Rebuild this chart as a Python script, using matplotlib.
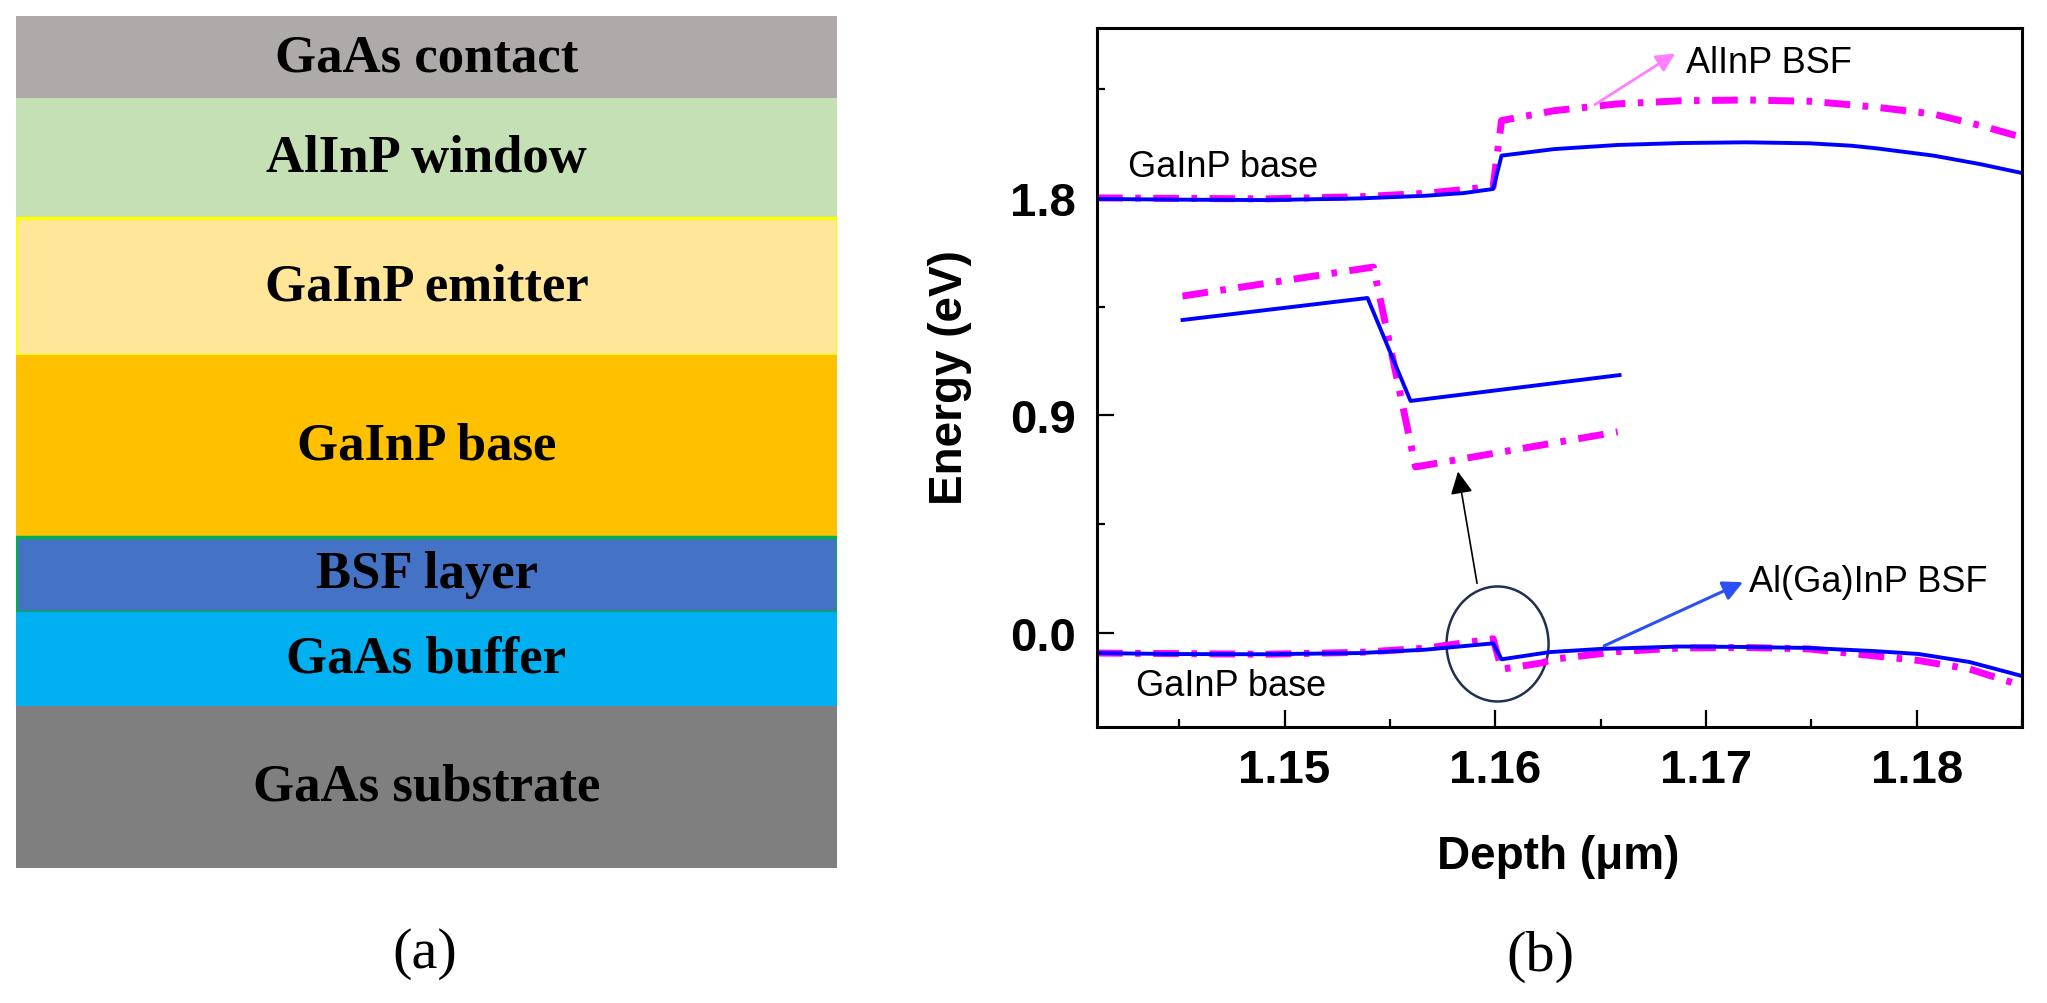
import matplotlib
matplotlib.use('Agg')
import matplotlib.pyplot as plt
from matplotlib.patches import Ellipse
from matplotlib.ticker import MultipleLocator, FormatStrFormatter

plt.rcParams['font.family'] = ['Liberation Sans', 'DejaVu Sans']

# ---- panel (a): layer stack (top to bottom) ----
layer_names = ['GaAs contact', 'AlInP window', 'GaInP emitter', 'GaInP base',
               'BSF layer', 'GaAs buffer', 'GaAs substrate']
layer_thick = [82, 120, 137, 182, 75, 94, 162]
layer_colors = ['#aeaaaa', '#c5e0b4', '#ffe699', '#ffc000', '#4472c4', '#00b0f0', '#7f7f7f']
layer_edges = ['none', 'none', '#ffff00', 'none', '#00b050', 'none', 'none']

# ---- panel (b): band edges, blue = Al(Ga)InP BSF, magenta = AlInP BSF ----
ec_blue_x = [1.1411, 1.1445, 1.1491, 1.1536, 1.1567, 1.1585, 1.1599, 1.1603, 1.1628,
             1.1658, 1.1688, 1.1719, 1.1749, 1.1769, 1.1781, 1.1808, 1.1830, 1.1850]
ec_blue_y = [1.796, 1.793, 1.791, 1.798, 1.809, 1.820, 1.837, 1.975, 2.002,
             2.019, 2.027, 2.030, 2.026, 2.016, 2.005, 1.975, 1.940, 1.903]
ec_mag_x = [1.1411, 1.1491, 1.1536, 1.1567, 1.1599, 1.1603, 1.1628, 1.1658, 1.1688,
            1.1719, 1.1749, 1.1769, 1.1781, 1.1808, 1.1830, 1.1850]
ec_mag_y = [1.800, 1.796, 1.805, 1.819, 1.847, 2.120, 2.161, 2.189, 2.202,
            2.205, 2.200, 2.185, 2.175, 2.147, 2.100, 2.051]

ev_blue_x = [1.1411, 1.1445, 1.1491, 1.1536, 1.1567, 1.1599, 1.1603, 1.1626, 1.1650,
             1.1688, 1.1719, 1.1749, 1.1780, 1.1801, 1.1825, 1.1850]
ev_blue_y = [-0.083, -0.087, -0.088, -0.083, -0.069, -0.043, -0.109, -0.079, -0.066,
             -0.056, -0.058, -0.062, -0.075, -0.087, -0.120, -0.178]
ev_mag_x = [1.1411, 1.1491, 1.1536, 1.1567, 1.1599, 1.1603, 1.1622, 1.1628, 1.1645,
            1.1658, 1.1688, 1.1719, 1.1749, 1.1767, 1.1801, 1.1825, 1.1846]
ev_mag_y = [-0.083, -0.088, -0.080, -0.063, -0.024, -0.150, -0.124, -0.108, -0.091,
            -0.077, -0.062, -0.060, -0.066, -0.083, -0.114, -0.149, -0.207]

# magnified view of the valence-band offset (drawn inside the plot)
zoom_blue_x = [1.14516, 1.15394, 1.15598, 1.16590]
zoom_blue_y = [1.295, 1.386, 0.960, 1.067]
zoom_mag_x = [1.14516, 1.15422, 1.15622, 1.16581]
zoom_mag_y = [1.394, 1.514, 0.687, 0.832]

x_ticks = [1.15, 1.16, 1.17, 1.18]
y_ticks = [0.0, 0.9, 1.8]

fig = plt.figure(figsize=(20.47, 10.04), dpi=100)
W, H = 2047.0, 1004.0

# ---------------- (a) ----------------
axa = fig.add_axes([16 / W, (H - 869) / H, 821 / W, 852 / H])
bottom = 0
for name, t, c, e in zip(layer_names, layer_thick, layer_colors, layer_edges):
    axa.bar(0.5, t, bottom=bottom, width=1.0, color=c,
            edgecolor=e, linewidth=2.5 if e != 'none' else 0)
    axa.text(0.5, bottom + t / 2, name, ha='center', va='center',
             family='Liberation Serif', weight='bold', fontsize=38, color='black')
    bottom += t
axa.set_xlim(0, 1)
axa.set_ylim(sum(layer_thick), 0)
axa.axis('off')
fig.text(425 / W, 1 - 954 / H, '(a)', ha='center', va='center',
         family='Liberation Serif', fontsize=42)

# ---------------- (b) ----------------
ax = fig.add_axes([1097 / W, (H - 728) / H, 925 / W, 699 / H])
dd = (0, (3.7, 1.8, 0.8, 1.8))
ax.plot(ec_mag_x, ec_mag_y, color='#ff00ff', lw=5, linestyle=dd)
ax.plot(ec_blue_x, ec_blue_y, color='#0000ff', lw=2.8)
ax.plot(ev_mag_x, ev_mag_y, color='#ff00ff', lw=5, linestyle=dd)
ax.plot(ev_blue_x, ev_blue_y, color='#0000ff', lw=2.8)
ax.plot(zoom_mag_x, zoom_mag_y, color='#ff00ff', lw=5, linestyle=dd)
ax.plot(zoom_blue_x, zoom_blue_y, color='#0000ff', lw=2.8)

ax.set_xlim(1.1411, 1.1850)
ax.set_ylim(-0.389, 2.503)
ax.set_xticks(x_ticks)
ax.set_yticks(y_ticks)
ax.xaxis.set_minor_locator(MultipleLocator(0.005))
ax.yaxis.set_minor_locator(MultipleLocator(0.45))
ax.xaxis.set_major_formatter(FormatStrFormatter('%.2f'))
ax.yaxis.set_major_formatter(FormatStrFormatter('%.1f'))
ax.tick_params(which='major', direction='in', length=12, width=1.6, labelsize=34, pad=15)
ax.tick_params(which='minor', direction='in', length=6, width=1.6)
for lab in ax.get_xticklabels() + ax.get_yticklabels():
    lab.set_fontweight('bold')
for s in ax.spines.values():
    s.set_linewidth(2.2)

# annotations
ax.text(1.14255, 1.932, 'GaInP base', fontsize=26, ha='left', va='center')
ax.text(1.14297, -0.219, 'GaInP base', fontsize=26, ha='left', va='center')
ax.text(1.16903, 2.362, 'AlInP BSF', fontsize=26, ha='left', va='center')
ax.text(1.17203, 0.211, 'Al(Ga)InP BSF', fontsize=26, ha='left', va='center')
ax.annotate('', xy=(1.16865, 2.404), xytext=(1.16462, 2.180),
            arrowprops=dict(arrowstyle='-|>', color='#ff80ff', lw=2, mutation_scale=28))
ax.annotate('', xy=(1.17188, 0.215), xytext=(1.16505, -0.058),
            arrowprops=dict(arrowstyle='-|>', color='#2b50f5', lw=2.2, mutation_scale=30))
ax.annotate('', xy=(1.15821, 0.679), xytext=(1.15916, 0.194),
            arrowprops=dict(arrowstyle='-|>', color='black', lw=1.2, mutation_scale=34))
ax.add_patch(Ellipse((1.16011, -0.0455), 0.004842, 0.4758, fill=False,
                     edgecolor='#1f3050', lw=1.8))

fig.text(1558 / W, 1 - 857 / H, 'Depth (\u03bcm)', ha='center', va='center',
         fontsize=33, weight='bold')
fig.text(950 / W, 1 - 378 / H, 'Energy (eV)', ha='center', va='center',
         rotation=90, fontsize=33, weight='bold')
fig.text(1540 / W, 1 - 957 / H, '(b)', ha='center', va='center',
         family='Liberation Serif', fontsize=42)

fig.savefig('out.png', dpi=100)
